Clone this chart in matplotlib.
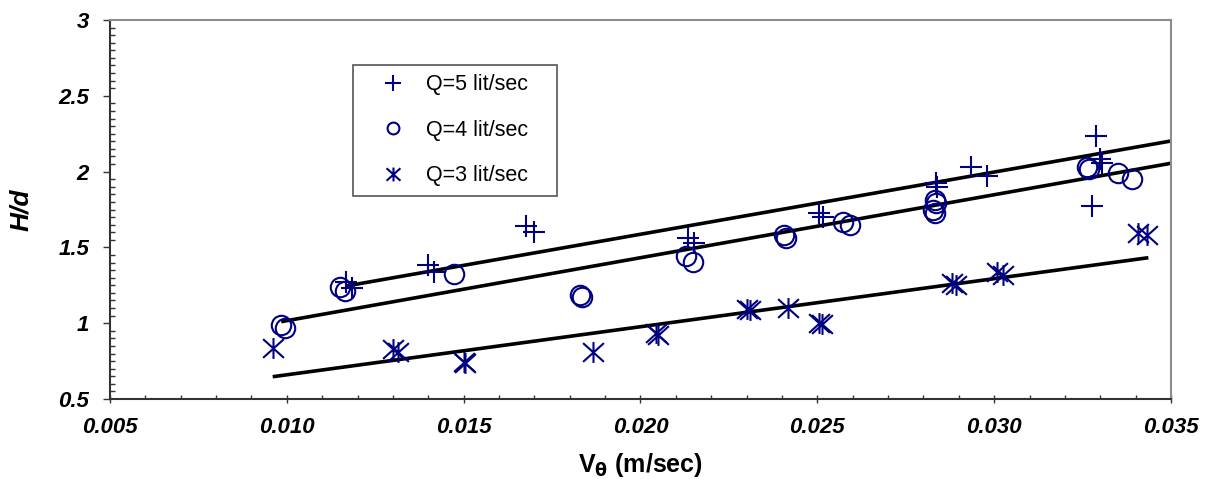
import matplotlib
matplotlib.use("Agg")
import matplotlib.pyplot as plt
from matplotlib.path import Path
from matplotlib.lines import Line2D
from matplotlib.ticker import MultipleLocator, FormatStrFormatter

# ---- data ----
v5 = [0.01167, 0.01185, 0.01398, 0.01417, 0.01676, 0.01700, 0.02135, 0.02150,
      0.02506, 0.02517, 0.02835, 0.02839, 0.02934, 0.02979, 0.03287, 0.03300,
      0.03305, 0.03276]
h5 = [1.27, 1.235, 1.384, 1.34, 1.641, 1.604, 1.56, 1.53,
      1.725, 1.703, 1.923, 1.90, 2.028, 1.973, 2.235, 2.08,
      2.06, 1.775]

v4 = [0.00984, 0.00995, 0.01150, 0.01164, 0.01474, 0.01829, 0.01834, 0.02130,
      0.02149, 0.02406, 0.02411, 0.02572, 0.02592, 0.02833, 0.02836, 0.02828,
      0.02833, 0.03262, 0.03269, 0.03351, 0.03389]
h4 = [0.985, 0.97, 1.237, 1.214, 1.325, 1.186, 1.171, 1.443,
      1.406, 1.582, 1.56, 1.67, 1.648, 1.813, 1.79, 1.747,
      1.729, 2.028, 2.015, 1.989, 1.949]

v3 = [0.00962, 0.01300, 0.01315, 0.01500, 0.01505, 0.01867, 0.02044, 0.02050,
      0.02300, 0.02310, 0.02418, 0.02506, 0.02512, 0.02880, 0.02892, 0.03007,
      0.03024, 0.03408, 0.03431]
h3 = [0.834, 0.83, 0.81, 0.745, 0.735, 0.812, 0.933, 0.922,
      1.092, 1.087, 1.098, 1.003, 0.995, 1.263, 1.252, 1.34,
      1.318, 1.597, 1.582]

# trend lines (end points)
fit5_x = [0.01167, 0.035]
fit5_y = [1.245, 2.202]
fit4_x = [0.00984, 0.035]
fit4_y = [1.010, 2.055]
fit3_x = [0.00960, 0.03436]
fit3_y = [0.647, 1.432]

labels = ["Q=5 lit/sec", "Q=4 lit/sec", "Q=3 lit/sec"]

# ---- styling ----
NAVY = "#000080"
plt.rcParams["font.family"] = ["Liberation Sans", "DejaVu Sans"]

star = Path([(0, -1), (0, 1), (-1, -0.9), (1, 0.9), (-1, 0.9), (1, -0.9)],
            [Path.MOVETO, Path.LINETO, Path.MOVETO, Path.LINETO,
             Path.MOVETO, Path.LINETO])

fig = plt.figure(figsize=(12.08, 4.79), dpi=100)
ax = fig.add_axes([110 / 1208, 1 - 399 / 479, 1061 / 1208, 379 / 479])

for fx, fy in [(fit5_x, fit5_y), (fit4_x, fit4_y), (fit3_x, fit3_y)]:
    ax.plot(fx, fy, color="black", lw=2.6, solid_capstyle="butt", zorder=2)

ax.plot(v5, h5, ls="none", marker="+", ms=16, mew=1.5, color=NAVY, zorder=3)
ax.plot(v4, h4, ls="none", marker="o", ms=14, mew=1.5, mfc="none",
        mec=NAVY, zorder=3)
ax.plot(v3, h3, ls="none", marker=star, ms=15, mew=1.5, color=NAVY, zorder=3)

ax.set_xlim(0.005, 0.035)
ax.set_ylim(0.5, 3.0)
ax.xaxis.set_major_locator(MultipleLocator(0.005))
ax.xaxis.set_minor_locator(MultipleLocator(0.001))
ax.yaxis.set_major_locator(MultipleLocator(0.5))
ax.yaxis.set_minor_locator(MultipleLocator(0.05))
ax.xaxis.set_major_formatter(FormatStrFormatter("%.3f"))

def yfmt(v, pos):
    return ("%g" % v)
ax.yaxis.set_major_formatter(plt.FuncFormatter(yfmt))

ax.tick_params(axis="x", which="major", direction="inout", length=6,
               width=1.0, color="#333333", pad=10)
ax.tick_params(axis="x", which="minor", direction="in", length=3,
               width=1.0, color="#333333")
ax.tick_params(axis="y", which="major", direction="out", length=5,
               width=1.0, color="#333333", pad=10)
ax.tick_params(axis="y", which="minor", direction="in", length=3.6,
               width=1.0, color="#333333")
ax.xaxis.set_ticks_position("bottom")
ax.yaxis.set_ticks_position("left")

for lab in ax.get_xticklabels() + ax.get_yticklabels():
    lab.set_fontsize(16)
    lab.set_fontweight("bold")
    lab.set_fontstyle("italic")

for side in ("left", "bottom"):
    ax.spines[side].set_color("#333333")
    ax.spines[side].set_linewidth(1.5)
for side in ("top", "right"):
    ax.spines[side].set_color("#8c8c8c")
    ax.spines[side].set_linewidth(1.5)

ax.set_xlabel(r"V$_\mathbf{\theta}$ (m/sec)", fontsize=18, fontweight="bold")
ax.set_ylabel("H/d", fontsize=19, fontweight="bold", fontstyle="italic")
ax.xaxis.set_label_coords(0.5, -0.137)
ax.yaxis.set_label_coords(-0.073, 0.5)

handles = [
    Line2D([], [], ls="none", marker="+", ms=11, mew=1.5, color=NAVY),
    Line2D([], [], ls="none", marker="o", ms=8.5, mew=1.5, mfc="none", mec=NAVY),
    Line2D([], [], ls="none", marker=star, ms=10, mew=1.5, color=NAVY),
]
leg = ax.legend(handles, labels, loc="upper left",
                bbox_to_anchor=(0.2287, 0.5488, 0.1929, 0.3325),
                mode="expand", borderaxespad=0, fontsize=15.5,
                handlelength=2.84, handletextpad=0.12, labelspacing=1.13,
                borderpad=0.44, fancybox=False, framealpha=1)
leg.get_frame().set_edgecolor("#555555")
leg.get_frame().set_linewidth(1.2)

fig.savefig("out.png", dpi=100)
